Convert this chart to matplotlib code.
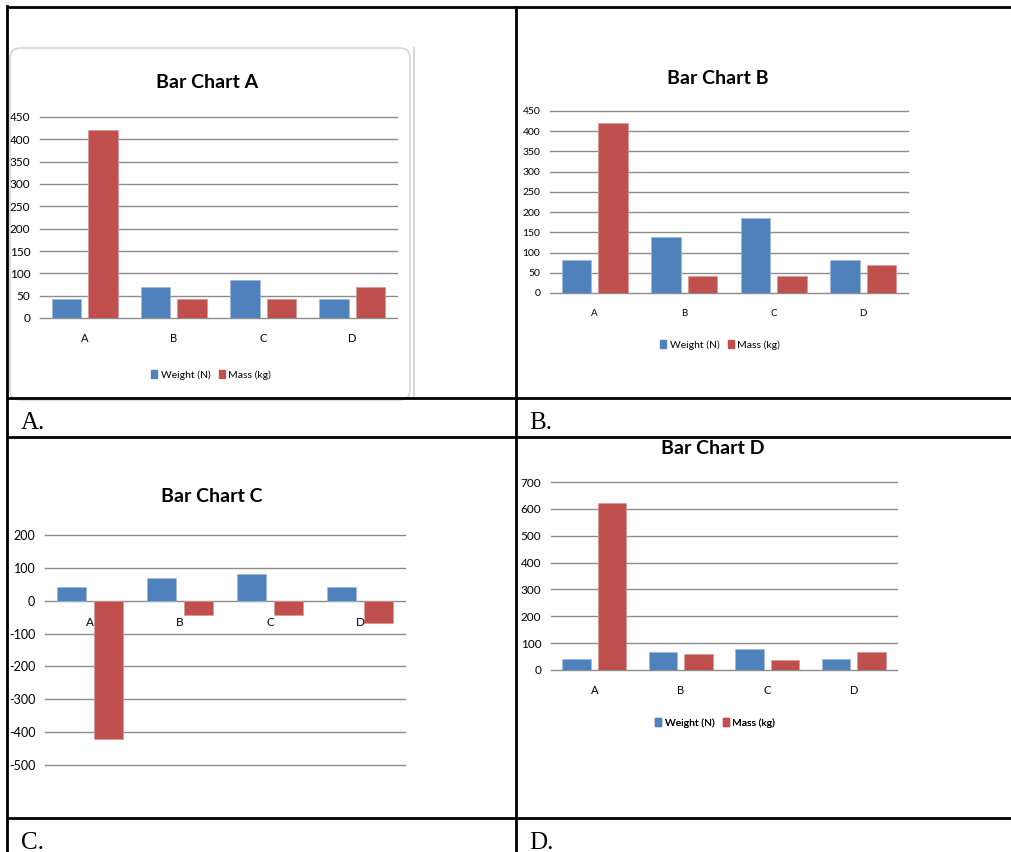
import matplotlib
matplotlib.use("Agg")
import matplotlib.pyplot as plt
from matplotlib.patches import FancyBboxPatch, Patch
import numpy as np

# values
categories = ['A', 'B', 'C', 'D']
weight_a = [42, 69, 85, 42]
mass_a = [420, 42, 42, 69]
weight_b = [82, 139, 185, 82]
mass_b = [420, 42, 42, 69]
weight_c = [40, 70, 82, 40]
mass_c = [-420, -43, -43, -69]
weight_d = [40, 68, 80, 40]
mass_d = [620, 60, 39, 68]

BLUE = '#4F81BD'
RED = '#C0504D'
GRID = '#8c8c8c'
NARROW = ['Liberation Sans Narrow', 'Lato', 'DejaVu Sans']

W, H = 1012, 852
fig = plt.figure(figsize=(W / 100, H / 100), dpi=100)

# overlay in pixel coords for the table, titles and labels
ov = fig.add_axes([0, 0, 1, 1], zorder=5)
ov.set_xlim(0, W)
ov.set_ylim(H, 0)
ov.axis('off')
ov.patch.set_alpha(0)


def px_axes(x0, y0, x1, y1):
    return fig.add_axes([x0 / W, 1 - y1 / H, (x1 - x0) / W, (y1 - y0) / H])


def bar_chart(box, weight, mass, yticks, title, title_xy, fs, lab_y,
              legend_xy=None):
    ax = px_axes(*box)
    x = np.arange(len(categories))
    for t in yticks:
        ax.axhline(t, color=GRID, lw=1, zorder=0, clip_on=False)
    ax.bar(x - 0.205, weight, 0.33, color=BLUE, edgecolor='#9fb9dc', lw=0.5, zorder=3)
    ax.bar(x + 0.205, mass, 0.33, color=RED, edgecolor='#d99795', lw=0.5, zorder=3)
    ax.set_xlim(-0.5, 3.5)
    ax.set_ylim(yticks[0], yticks[-1])
    ax.set_yticks(yticks)
    ax.set_yticklabels([str(t) for t in yticks], family=NARROW, fontsize=fs)
    ax.set_xticks([])
    ax.tick_params(axis='y', length=0, pad=7)
    for s in ax.spines.values():
        s.set_visible(False)
    ax.patch.set_alpha(0)
    x0, y0, x1, y1 = box
    cw = (x1 - x0) / 4
    for i, c in enumerate(categories):
        ov.text(x0 + cw * (i + 0.5), lab_y, c, ha='center', va='center',
                family=NARROW, fontsize=fs - 0.5)
    ov.text(title_xy[0], title_xy[1], title, ha='center', va='center',
            family=NARROW, fontsize=14, fontweight='bold')
    if legend_xy is not None:
        handles = [Patch(color=BLUE, label='Weight (N)'), Patch(color=RED, label='Mass (kg)')]
        leg = ov.legend(handles=handles, loc='center', bbox_to_anchor=legend_xy,
                        bbox_transform=ov.transData, ncol=2, frameon=False,
                        handlelength=0.6, handleheight=0.8, handletextpad=0.3,
                        columnspacing=0.8, prop={'family': NARROW, 'size': 7.5})
        ov.add_artist(leg)
    return ax


# faint chart frame around chart A
ov.add_patch(FancyBboxPatch((10, 48), 400, 352, boxstyle='round,pad=0,rounding_size=10',
                            fill=False, edgecolor='#cfcfcf', lw=1))
ov.plot([414, 414], [48, 398], color='#d8d8d8', lw=1.5)

bar_chart((40, 117, 397, 318), weight_a, mass_a, list(range(0, 451, 50)),
          'Bar Chart A', (207, 82), 8.5, 338, legend_xy=(211, 375))
bar_chart((550, 111, 908, 293), weight_b, mass_b, list(range(0, 451, 50)),
          'Bar Chart B', (718, 78), 7.5, 313, legend_xy=(720, 345))
bar_chart((45, 534.7, 405, 765.3), weight_c, mass_c, list(range(-500, 201, 100)),
          'Bar Chart C', (212, 497), 9, 623)
bar_chart((551, 482, 897, 670), weight_d, mass_d, list(range(0, 701, 100)),
          'Bar Chart D', (713, 448), 8.5, 690, legend_xy=(715, 723))

# table lines
lw = 2
for y in [7, 398, 436.5, 818]:
    ov.plot([7, W], [y, y], color='black', lw=lw, solid_capstyle='butt')
ov.plot([7, 7], [6, H], color='black', lw=lw)
ov.plot([516, 516], [7, H], color='black', lw=lw)

for lab, x, y in [('A.', 21, 429), ('B.', 529, 429), ('C.', 21, 849), ('D.', 529, 849)]:
    ov.text(x, y, lab, ha='left', va='baseline', family=['Liberation Serif', 'DejaVu Serif'],
            fontsize=18)

fig.savefig('out.png', dpi=100)
